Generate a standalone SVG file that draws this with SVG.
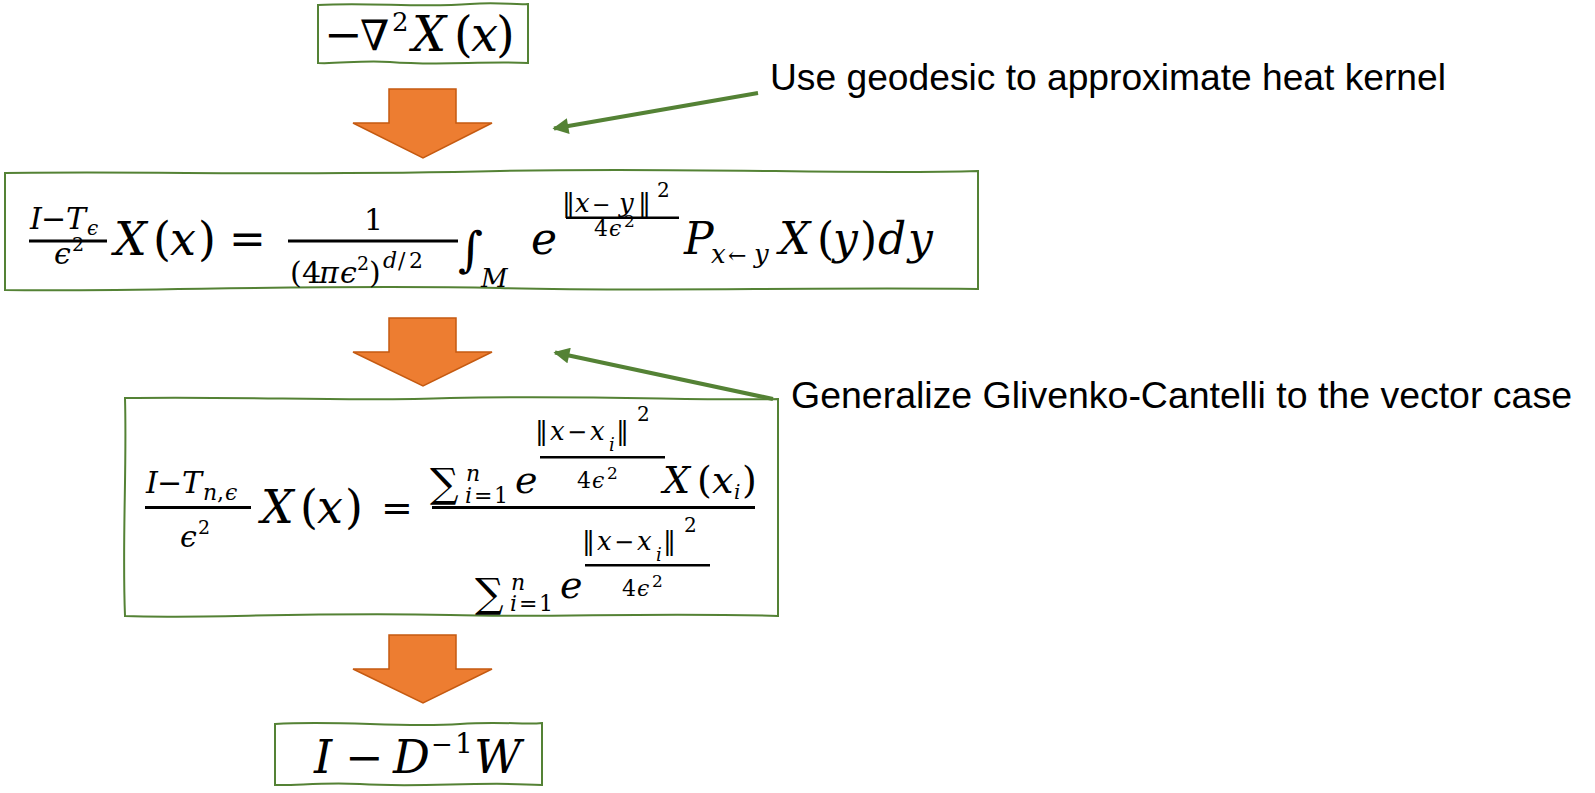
<svg xmlns="http://www.w3.org/2000/svg" width="1595" height="793" viewBox="0 0 1595 793">
<style>
.box{fill:#fff;stroke:#548235;stroke-width:2}
.arr{fill:#ED7D31;stroke:#C55A11;stroke-width:1.5}
.mi{font-family:"DejaVu Serif",serif;font-style:italic;fill:#000}
.mu{font-family:"DejaVu Serif",serif;font-style:normal;fill:#000}
.bar{fill:#000}
.lbl{font-family:"Liberation Sans",Arial,sans-serif;font-size:36px;fill:#000}
.con{stroke:#548235;stroke-width:4;fill:none}
</style>
<defs>
<marker id="ah" viewBox="0 0 10 10" refX="9" refY="5" markerWidth="4.5" markerHeight="4" orient="auto"><path d="M0,0 L10,5 L0,10 z" fill="#548235"/></marker>
</defs>
<rect width="1595" height="793" fill="#fff"/>

<g id="n1">
<path class="box" d="M318,5 C370,2 420,8 470,4 C500,2 515,5 528,4 L528,63 C480,61 440,66 390,62 C360,60 340,64 318,63 Z"/>
<text class="mu" font-size="46" x="324" y="50">−</text>
<text class="mu" font-size="42" x="360" y="50">∇</text>
<text class="mu" font-size="26" x="392" y="31">2</text>
<text class="mi" font-size="48" x="412" y="51">X</text>
<text class="mu" font-size="48" x="454" y="51">(</text>
<text class="mi" font-size="48" x="471" y="51">x</text>
<text class="mu" font-size="48" x="496" y="51">)</text>
</g>

<g id="n2">
<path class="box" d="M5,173 C150,171 300,176 500,171 C700,167 850,175 978,171 L978,289 C800,287 650,292 500,288 C300,284 150,292 5,290 Z"/>
<text class="mi" font-size="30" x="30" y="229">I</text>
<text class="mu" font-size="30" x="41" y="229">−</text>
<text class="mi" font-size="30" x="66" y="229">T</text>
<text class="mi" font-size="20" x="87" y="235">ϵ</text>
<rect class="bar" x="29" y="239.5" width="78" height="3"/>
<text class="mi" font-size="30" x="54" y="264">ϵ</text>
<text class="mu" font-size="19" x="72" y="251">2</text>
<text class="mi" font-size="46" x="114" y="255">X</text>
<text class="mu" font-size="46" x="153" y="255">(</text>
<text class="mi" font-size="46" x="170" y="255">x</text>
<text class="mu" font-size="46" x="198" y="255">)</text>
<text class="mu" font-size="44" x="229" y="254">=</text>
<text class="mu" font-size="30" x="364" y="230">1</text>
<rect class="bar" x="288" y="239.5" width="170" height="3"/>
<text class="mu" font-size="30" x="290" y="283">(</text>
<text class="mu" font-size="30" x="302" y="283">4</text>
<text class="mi" font-size="30" x="319" y="283">π</text>
<text class="mi" font-size="30" x="340" y="283">ϵ</text>
<text class="mu" font-size="19" x="357" y="270">2</text>
<text class="mu" font-size="30" x="369" y="283">)</text>
<text class="mi" font-size="22" x="383" y="268">d</text>
<text class="mu" font-size="22" x="398" y="268">/</text>
<text class="mu" font-size="22" x="409" y="268">2</text>
<text class="mu" font-size="48" x="458" y="266">∫</text>
<text class="mi" font-size="26" x="481" y="287">M</text>
<text class="mi" font-size="44" x="531" y="254">e</text>
<text class="mu" font-size="26" x="562" y="212">‖</text>
<text class="mi" font-size="26" x="575" y="212">x</text>
<text class="mu" font-size="22" x="592" y="212">−</text>
<text class="mi" font-size="26" x="619" y="212">y</text>
<text class="mu" font-size="26" x="638" y="212">‖</text>
<text class="mu" font-size="20" x="657" y="197">2</text>
<rect class="bar" x="566" y="216.5" width="113" height="2.5"/>
<text class="mu" font-size="22" x="594" y="236">4</text>
<text class="mi" font-size="22" x="609" y="236">ϵ</text>
<text class="mu" font-size="17" x="624" y="227">2</text>
<text class="mi" font-size="44" x="684" y="254">P</text>
<text class="mi" font-size="26" x="711" y="263">x</text>
<text class="mu" font-size="22" x="728" y="263">←</text>
<text class="mi" font-size="26" x="754" y="263">y</text>
<text class="mi" font-size="44" x="779" y="254">X</text>
<text class="mu" font-size="44" x="817" y="254">(</text>
<text class="mi" font-size="44" x="833" y="254">y</text>
<text class="mu" font-size="44" x="860" y="254">)</text>
<text class="mi" font-size="44" x="878" y="254">d</text>
<text class="mi" font-size="44" x="908" y="254">y</text>
</g>

<g id="n3">
<path class="box" d="M125,398 C250,396 350,402 450,398 C600,395 700,401 778,399 L778,616 C650,612 550,618 450,615 C300,612 200,619 125,616 C122,540 127,470 125,398 Z"/>
<text class="mi" font-size="30" x="146" y="493">I</text>
<text class="mu" font-size="30" x="157" y="493">−</text>
<text class="mi" font-size="30" x="182" y="493">T</text>
<text class="mi" font-size="22" x="203" y="500">n</text>
<text class="mu" font-size="22" x="217" y="500">,</text>
<text class="mi" font-size="22" x="225" y="500">ϵ</text>
<rect class="bar" x="145" y="506" width="106" height="3"/>
<text class="mi" font-size="30" x="180" y="547">ϵ</text>
<text class="mu" font-size="19" x="198" y="534">2</text>
<text class="mi" font-size="46" x="261" y="523">X</text>
<text class="mu" font-size="46" x="300" y="523">(</text>
<text class="mi" font-size="46" x="317" y="523">x</text>
<text class="mu" font-size="46" x="345" y="523">)</text>
<text class="mu" font-size="38" x="381" y="521">=</text>
<rect class="bar" x="432" y="506" width="323" height="3"/>
<text class="mu" font-size="40" x="430" y="497">∑</text>
<text class="mi" font-size="22" x="466" y="481">n</text>
<text class="mi" font-size="22" x="465" y="503">i</text>
<text class="mu" font-size="22" x="474" y="503">=</text>
<text class="mu" font-size="22" x="494" y="503">1</text>
<text class="mi" font-size="38" x="515" y="493">e</text>
<text class="mu" font-size="26" x="535" y="440">‖</text>
<text class="mi" font-size="26" x="550" y="440">x</text>
<text class="mu" font-size="24" x="567" y="440">−</text>
<text class="mi" font-size="26" x="590" y="440">x</text>
<text class="mi" font-size="18" x="609" y="451">i</text>
<text class="mu" font-size="26" x="616" y="440">‖</text>
<text class="mu" font-size="20" x="637" y="421">2</text>
<rect class="bar" x="540" y="456" width="125" height="2.5"/>
<text class="mu" font-size="22" x="577" y="488">4</text>
<text class="mi" font-size="22" x="592" y="488">ϵ</text>
<text class="mu" font-size="17" x="607" y="479">2</text>
<text class="mi" font-size="38" x="663" y="493">X</text>
<text class="mu" font-size="38" x="697" y="493">(</text>
<text class="mi" font-size="38" x="712" y="493">x</text>
<text class="mi" font-size="20" x="734" y="499">i</text>
<text class="mu" font-size="38" x="742" y="493">)</text>
<text class="mu" font-size="40" x="475" y="607">∑</text>
<text class="mi" font-size="22" x="511" y="590">n</text>
<text class="mi" font-size="22" x="510" y="611">i</text>
<text class="mu" font-size="22" x="519" y="611">=</text>
<text class="mu" font-size="22" x="539" y="611">1</text>
<text class="mi" font-size="38" x="560" y="598">e</text>
<text class="mu" font-size="26" x="582" y="550">‖</text>
<text class="mi" font-size="26" x="597" y="550">x</text>
<text class="mu" font-size="24" x="614" y="550">−</text>
<text class="mi" font-size="26" x="637" y="550">x</text>
<text class="mi" font-size="18" x="656" y="561">i</text>
<text class="mu" font-size="26" x="663" y="550">‖</text>
<text class="mu" font-size="20" x="684" y="532">2</text>
<rect class="bar" x="585" y="564" width="125" height="2.5"/>
<text class="mu" font-size="22" x="622" y="596">4</text>
<text class="mi" font-size="22" x="637" y="596">ϵ</text>
<text class="mu" font-size="17" x="652" y="587">2</text>
</g>

<g id="n4">
<path class="box" d="M275,724 C340,720 400,728 460,724 C500,721 525,725 542,723 L542,785 C480,781 420,788 360,784 C320,782 295,786 275,785 Z"/>
<text class="mi" font-size="46" x="314" y="773">I</text>
<text class="mu" font-size="46" x="345" y="773">−</text>
<text class="mi" font-size="46" x="393" y="773">D</text>
<text class="mu" font-size="26" x="431" y="753">−</text>
<text class="mu" font-size="28" x="455" y="753">1</text>
<text class="mi" font-size="46" x="474" y="773">W</text>
</g>

<g id="arrows">
<polygon class="arr" points="389,89 456,89 456,123 492,123 423,158 353,123 389,123"/>
<polygon class="arr" points="389,318 456,318 456,352 492,352 423,386 353,352 389,352"/>
<polygon class="arr" points="389,635 456,635 456,669 492,669 423,703 353,669 389,669"/>
</g>

<g id="connectors">
<line class="con" x1="758" y1="93" x2="554" y2="128.5" marker-end="url(#ah)"/>
<line class="con" x1="773" y1="399" x2="555" y2="352.5" marker-end="url(#ah)"/>
</g>

<g id="labels">
<text class="lbl" x="770" y="90" textLength="676" lengthAdjust="spacingAndGlyphs">Use geodesic to approximate heat kernel</text>
<text class="lbl" x="791" y="408" textLength="781" lengthAdjust="spacingAndGlyphs">Generalize Glivenko-Cantelli to the vector case</text>
</g>
</svg>
